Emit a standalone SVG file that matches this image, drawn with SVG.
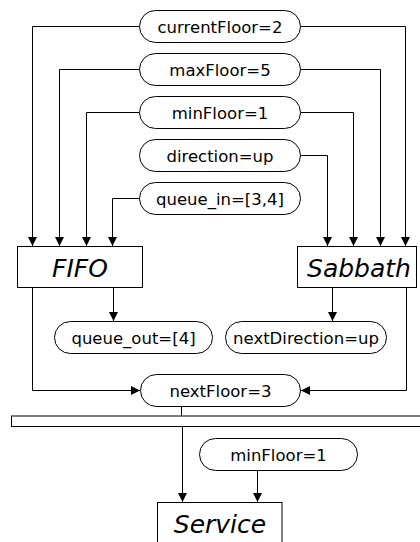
<svg xmlns="http://www.w3.org/2000/svg" width="420" height="542" viewBox="0 0 420 542">
  <style>
    .pill { fill: #ffffff; stroke: #000000; stroke-width: 1; }
    .box { fill: #ffffff; stroke: #000000; stroke-width: 1; }
    .lbl { font-family: "DejaVu Sans", Verdana, sans-serif; font-size: 16.5px; fill: #000000; text-anchor: middle; }
    .title { font-family: "DejaVu Sans", Verdana, sans-serif; font-size: 25px; font-style: italic; fill: #000000; text-anchor: middle; }
    .wire { fill: none; stroke: #000000; stroke-width: 1; }
    .arrow { marker-end: url(#head); }
  </style>
  <defs>
    <marker id="head" markerUnits="userSpaceOnUse" markerWidth="10" markerHeight="10" refX="9" refY="4.5" orient="auto">
      <path d="M0,0 L9,4.5 L0,9 Z" fill="#000000"/>
    </marker>
  </defs>
  <rect width="420" height="542" fill="#ffffff"/>

  <!-- connectors -->
  <g id="connectors">
    <path class="wire arrow" d="M139.5 26.5 H32.5 V246"/>
    <path class="wire arrow" d="M300.5 26.5 H405.5 V246"/>
    <path class="wire arrow" d="M139.5 69.5 H59.5 V246"/>
    <path class="wire arrow" d="M300.5 69.5 H380.5 V246"/>
    <path class="wire arrow" d="M139.5 112.5 H86.5 V246"/>
    <path class="wire arrow" d="M300.5 112.5 H353.5 V246"/>
    <path class="wire arrow" d="M300.5 155.5 H327.5 V246"/>
    <path class="wire arrow" d="M139.5 198.5 H112.5 V246"/>
    <path class="wire arrow" d="M113.5 287.5 V321"/>
    <path class="wire arrow" d="M332.5 287.5 V321"/>
    <path class="wire arrow" d="M32.5 287.5 V390.5 H140"/>
    <path class="wire arrow" d="M406.5 287.5 V390.5 H301"/>
    <path class="wire" d="M181.5 406.5 V416"/>
    <path class="wire arrow" d="M182.5 427 V502"/>
    <path class="wire arrow" d="M257.5 470 V502"/>
  </g>

  <!-- input values -->
  <g id="currentFloor">
    <rect class="pill" x="139.5" y="10.5" width="161" height="32" rx="16"/>
    <text class="lbl" x="220" y="33">currentFloor=2</text>
  </g>
  <g id="maxFloor">
    <rect class="pill" x="139.5" y="53.5" width="161" height="32" rx="16"/>
    <text class="lbl" x="220" y="76">maxFloor=5</text>
  </g>
  <g id="minFloor">
    <rect class="pill" x="139.5" y="96.5" width="161" height="32" rx="16"/>
    <text class="lbl" x="220" y="119">minFloor=1</text>
  </g>
  <g id="direction">
    <rect class="pill" x="139.5" y="139.5" width="161" height="32" rx="16"/>
    <text class="lbl" x="220" y="162">direction=up</text>
  </g>
  <g id="queue_in">
    <rect class="pill" x="139.5" y="182.5" width="161" height="32" rx="16"/>
    <text class="lbl" x="220" y="205">queue_in=[3,4]</text>
  </g>

  <!-- processing blocks -->
  <g id="FIFO">
    <rect class="box" x="17.5" y="246.5" width="125" height="41"/>
    <text class="title" x="80" y="276.5">FIFO</text>
  </g>
  <g id="Sabbath">
    <rect class="box" x="297.5" y="246.5" width="119" height="41"/>
    <text class="title" x="359" y="276.5">Sabbath</text>
  </g>

  <!-- outputs -->
  <g id="queue_out">
    <rect class="pill" x="54.5" y="321.5" width="158" height="32" rx="16"/>
    <text class="lbl" x="133.5" y="344">queue_out=[4]</text>
  </g>
  <g id="nextDirection">
    <rect class="pill" x="225.5" y="321.5" width="161" height="32" rx="16"/>
    <text class="lbl" x="306" y="344">nextDirection=up</text>
  </g>
  <g id="nextFloor">
    <rect class="pill" x="140.5" y="374.5" width="160" height="32" rx="16"/>
    <text class="lbl" x="220.5" y="397">nextFloor=3</text>
  </g>

  <!-- bus -->
  <g id="bus">
    <rect class="box" x="11.5" y="416" width="420" height="10.5"/>
  </g>

  <g id="minFloor2">
    <rect class="pill" x="199.5" y="438.5" width="158" height="32" rx="16"/>
    <text class="lbl" x="278.5" y="461">minFloor=1</text>
  </g>
  <g id="Service">
    <rect class="box" x="157.5" y="502.5" width="124.5" height="60"/>
    <text class="title" x="220" y="533">Service</text>
  </g>
</svg>
